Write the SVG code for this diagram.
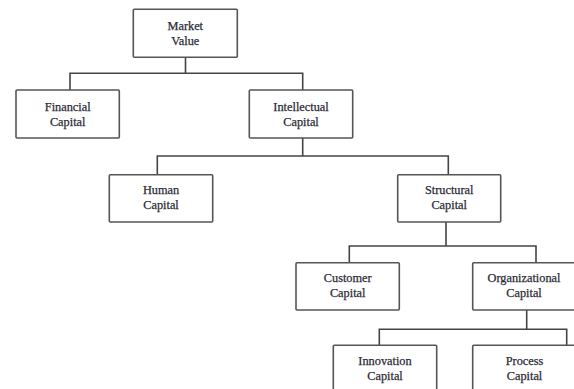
<svg xmlns="http://www.w3.org/2000/svg" width="574" height="389" viewBox="0 0 574 389">
<style>
.box{fill:#fff;stroke:#555;stroke-width:1.6}
.lbl{font-family:"Liberation Serif","Times New Roman",serif;font-size:12.3px;fill:#2b2b36;text-anchor:middle;stroke:#2b2b36;stroke-width:0.25}
.con{fill:none;stroke:#444;stroke-width:1.6}
</style>
<rect width="574" height="389" fill="#fff"/>
<g id="connectors">
<path class="con" d="M185.5 57V73.3M70 90V73.3H302.7V90"/>
<path class="con" d="M302.7 138V156M157.3 174.7V156H448.3V174.7"/>
<path class="con" d="M446 222V246M349.3 262.7V246H536V262.7"/>
<path class="con" d="M526.7 310V329.3M379.3 345.3V329.3H566.7V345.3"/>
</g>
<g id="market-value"><rect class="box" x="133.3" y="9.3" width="104" height="48" rx="1"/><text class="lbl" x="185.3" y="29.5">Market</text><text class="lbl" x="185.3" y="45">Value</text></g>
<g id="financial-capital"><rect class="box" x="16" y="90" width="103.3" height="48" rx="1"/><text class="lbl" x="67.7" y="110.5">Financial</text><text class="lbl" x="67.7" y="125.8">Capital</text></g>
<g id="intellectual-capital"><rect class="box" x="249.3" y="90" width="103.4" height="48" rx="1"/><text class="lbl" x="301" y="110.5">Intellectual</text><text class="lbl" x="301" y="125.8">Capital</text></g>
<g id="human-capital"><rect class="box" x="109.3" y="174.7" width="103.4" height="47.3" rx="1"/><text class="lbl" x="161" y="193.5">Human</text><text class="lbl" x="161" y="209">Capital</text></g>
<g id="structural-capital"><rect class="box" x="397.7" y="174.7" width="103" height="47.3" rx="1"/><text class="lbl" x="449.2" y="193.5">Structural</text><text class="lbl" x="449.2" y="209">Capital</text></g>
<g id="customer-capital"><rect class="box" x="296" y="262.7" width="103.3" height="47.3" rx="1"/><text class="lbl" x="347.7" y="281.5">Customer</text><text class="lbl" x="347.7" y="297">Capital</text></g>
<g id="organizational-capital"><rect class="box" x="472.7" y="262.7" width="103.3" height="47.3" rx="1"/><text class="lbl" x="524" y="281.5">Organizational</text><text class="lbl" x="524" y="297">Capital</text></g>
<g id="innovation-capital"><rect class="box" x="333.3" y="345.3" width="103.4" height="47.3" rx="1"/><text class="lbl" x="385" y="364.5">Innovation</text><text class="lbl" x="385" y="380">Capital</text></g>
<g id="process-capital"><rect class="box" x="472.7" y="345.3" width="103.3" height="47.3" rx="1"/><text class="lbl" x="524.5" y="364.5">Process</text><text class="lbl" x="524.5" y="380">Capital</text></g>
</svg>
